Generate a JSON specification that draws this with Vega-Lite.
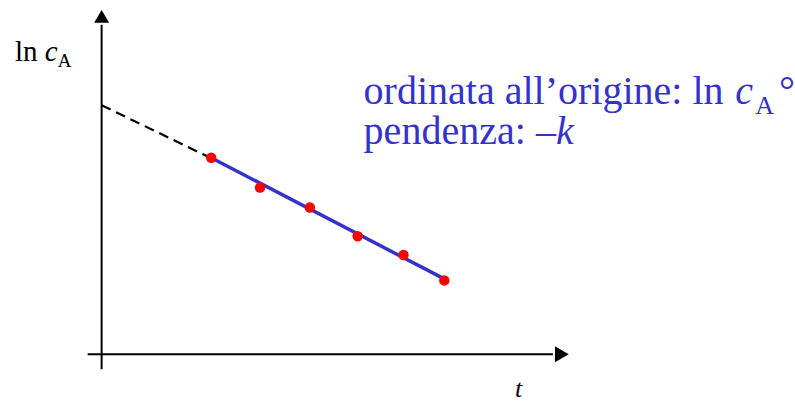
{
  "$schema": "https://vega.github.io/schema/vega-lite/v6.json",
  "width": 795,
  "height": 402,
  "padding": 0,
  "autosize": {"type": "fit", "contains": "padding"},
  "background": "white",
  "config": {"view": {"stroke": null}, "text": {"font": "Liberation Serif, Times New Roman, serif"}},
  "datasets": {
    "punti": [
      {"t": 11.0, "lnc": 19.8},
      {"t": 15.9, "lnc": 16.8},
      {"t": 20.9, "lnc": 14.8},
      {"t": 25.7, "lnc": 11.9},
      {"t": 30.3, "lnc": 10.0},
      {"t": 34.4, "lnc": 7.45}
    ],
    "retta": [
      {"t": 10.8, "lnc": 19.9},
      {"t": 34.4, "lnc": 7.6}
    ],
    "estrapolazione": [
      {"t": 0, "lnc": 25.1},
      {"t": 10.6, "lnc": 19.95}
    ],
    "assi": [
      {"t": -1.4, "lnc": 0, "t2": 45.3, "lnc2": 0},
      {"t": 0, "lnc": -1.5, "t2": 0, "lnc2": 33.2}
    ]
  },
  "layer": [
    {
      "data": {"name": "assi"},
      "mark": {"type": "rule", "color": "black", "strokeWidth": 2},
      "encoding": {
        "x": {"field": "t", "type": "quantitative", "scale": {"domain": [-10.2, 69.3], "nice": false, "zero": false}, "axis": null},
        "y": {"field": "lnc", "type": "quantitative", "scale": {"domain": [-4.5, 35.7], "nice": false, "zero": false}, "axis": null},
        "x2": {"field": "t2"},
        "y2": {"field": "lnc2"}
      }
    },
    {
      "data": {"values": [{"t": 46.2, "lnc": 0}]},
      "mark": {"type": "point", "shape": "triangle-right", "filled": true, "color": "black", "opacity": 1, "size": 256},
      "encoding": {
        "x": {"field": "t", "type": "quantitative"},
        "y": {"field": "lnc", "type": "quantitative"}
      }
    },
    {
      "data": {"values": [{"t": 0, "lnc": 34.05}]},
      "mark": {"type": "point", "shape": "triangle-up", "filled": true, "color": "black", "opacity": 1, "size": 225},
      "encoding": {
        "x": {"field": "t", "type": "quantitative"},
        "y": {"field": "lnc", "type": "quantitative"}
      }
    },
    {
      "data": {"name": "estrapolazione"},
      "mark": {"type": "line", "color": "black", "strokeWidth": 2.2, "strokeDash": [10, 6]},
      "encoding": {
        "x": {"field": "t", "type": "quantitative"},
        "y": {"field": "lnc", "type": "quantitative"}
      }
    },
    {
      "data": {"name": "retta"},
      "mark": {"type": "line", "color": "#3333cc", "strokeWidth": 3.5},
      "encoding": {
        "x": {"field": "t", "type": "quantitative"},
        "y": {"field": "lnc", "type": "quantitative"}
      }
    },
    {
      "data": {"name": "punti"},
      "mark": {"type": "point", "shape": "circle", "filled": true, "color": "#ff0000", "opacity": 1, "size": 110},
      "encoding": {
        "x": {"field": "t", "type": "quantitative"},
        "y": {"field": "lnc", "type": "quantitative"}
      }
    },
    {
      "data": {"values": [{}]},
      "layer": [
        {
          "mark": {"type": "text", "text": "ln ", "fontSize": 29, "align": "left", "baseline": "alphabetic", "color": "black"},
          "encoding": {"x": {"datum": -8.7, "type": "quantitative"}, "y": {"datum": 29.6, "type": "quantitative"}}
        },
        {
          "mark": {"type": "text", "text": "c", "fontStyle": "italic", "fontSize": 29, "align": "left", "baseline": "alphabetic", "color": "black"},
          "encoding": {"x": {"datum": -5.7, "type": "quantitative"}, "y": {"datum": 29.6, "type": "quantitative"}}
        },
        {
          "mark": {"type": "text", "text": "A", "fontSize": 19, "align": "left", "baseline": "alphabetic", "color": "black"},
          "encoding": {"x": {"datum": -4.4, "type": "quantitative"}, "y": {"datum": 29.0, "type": "quantitative"}}
        },
        {
          "mark": {"type": "text", "text": "t", "fontStyle": "italic", "fontSize": 26, "align": "left", "baseline": "alphabetic", "color": "black"},
          "encoding": {"x": {"datum": 41.5, "type": "quantitative"}, "y": {"datum": -4.3, "type": "quantitative"}}
        },
        {
          "mark": {"type": "text", "text": "ordinata all’origine: ln ", "fontSize": 40, "align": "left", "baseline": "alphabetic", "color": "#3333cc"},
          "encoding": {"x": {"datum": 26.3, "type": "quantitative"}, "y": {"datum": 25.2, "type": "quantitative"}}
        },
        {
          "mark": {"type": "text", "text": "c", "fontStyle": "italic", "fontSize": 40, "align": "left", "baseline": "alphabetic", "color": "#3333cc"},
          "encoding": {"x": {"datum": 63.6, "type": "quantitative"}, "y": {"datum": 25.2, "type": "quantitative"}}
        },
        {
          "mark": {"type": "text", "text": "A", "fontSize": 26, "align": "left", "baseline": "alphabetic", "color": "#3333cc"},
          "encoding": {"x": {"datum": 65.6, "type": "quantitative"}, "y": {"datum": 24.2, "type": "quantitative"}}
        },
        {
          "mark": {"type": "text", "text": "°", "fontSize": 40, "align": "left", "baseline": "alphabetic", "color": "#3333cc"},
          "encoding": {"x": {"datum": 68.0, "type": "quantitative"}, "y": {"datum": 25.2, "type": "quantitative"}}
        },
        {
          "mark": {"type": "text", "text": "pendenza: ", "fontSize": 40, "align": "left", "baseline": "alphabetic", "color": "#3333cc"},
          "encoding": {"x": {"datum": 26.3, "type": "quantitative"}, "y": {"datum": 21.2, "type": "quantitative"}}
        },
        {
          "mark": {"type": "text", "text": "–k", "fontStyle": "italic", "fontSize": 40, "align": "left", "baseline": "alphabetic", "color": "#3333cc"},
          "encoding": {"x": {"datum": 43.6, "type": "quantitative"}, "y": {"datum": 21.2, "type": "quantitative"}}
        }
      ]
    }
  ]
}
